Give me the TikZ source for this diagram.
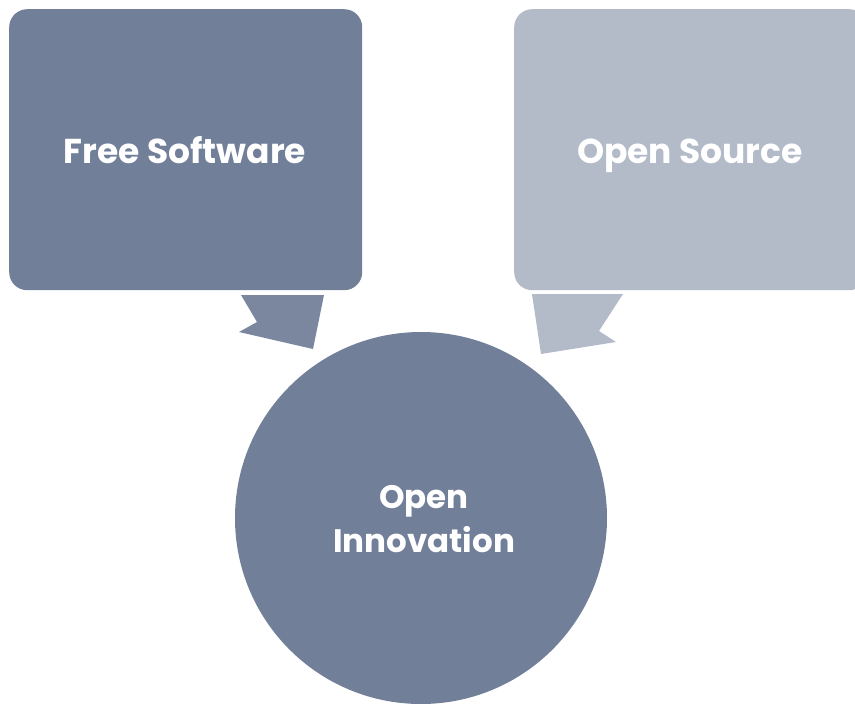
\documentclass[tikz,border=0pt]{standalone}
\usepackage{fontspec}
\setmainfont{Poppins}
\definecolor{darkbox}{HTML}{717F99}
\definecolor{lightbox}{HTML}{B3BAC8}
\definecolor{darkarrow}{HTML}{7A879F}
\begin{document}
\begin{tikzpicture}[x=1pt,y=-1pt,
  box/.style={rounded corners=18pt, minimum width=353pt, minimum height=281pt, inner sep=0pt},
  lbl/.style={text=white, font=\fontsize{34.5}{44}\selectfont\bfseries, align=center, anchor=base, inner sep=0pt},
  clbl/.style={text=white, font=\fontsize{32.5}{44}\selectfont\bfseries, align=center, inner sep=0pt},
  circ/.style={circle, minimum size=372pt, inner sep=0pt, fill=darkbox}]
\useasboundingbox (0,0) rectangle (855,704);
\clip (0,0) rectangle (855,704);
\node[box, fill=darkbox, anchor=north west] (fs) at (9,9) {};
\node[lbl] (fst) at (185,163) {Free Software};
\node[box, fill=lightbox, anchor=north west] (os) at (514,9) {};
\node[lbl] (ost) at (690,163) {Open Source};
\node[circ] (oi) at (421,518) {};
\node[clbl, anchor=base] (oit) at (424,552) {Open\\Innovation};
\fill[darkarrow] (241,295) -- (324,295) -- (313,349) -- (239,332) -- (257,322) -- cycle;
\fill[lightbox] (532,294) -- (623,294) -- (599,331) -- (616,342) -- (541,354) -- cycle;
\end{tikzpicture}
\end{document}
